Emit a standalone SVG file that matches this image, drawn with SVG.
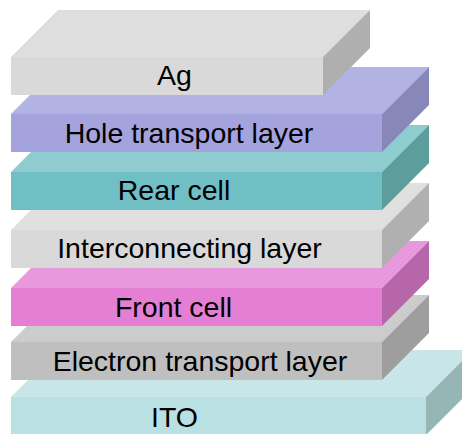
<svg xmlns="http://www.w3.org/2000/svg" width="462" height="434" viewBox="0 0 462 434">
<style>
text{font-family:"Liberation Sans",Arial,sans-serif;font-size:28.5px;fill:#000;text-anchor:middle}
</style>
<rect width="462" height="434" fill="#ffffff"/>
<g id="ito">
<polygon points="11,397 58,350 473,350 426,397" fill="#c8e6e8"/>
<polygon points="426,397 473,350 473,388 426,435" fill="#96b5b5"/>
<rect x="11" y="397" width="415" height="38" fill="#b9e0e3"/>
<text x="174.5" y="427">ITO</text>
</g>
<g id="etl">
<polygon points="11,342 58,295 429,295 382,342" fill="#cccccc"/>
<polygon points="382,342 429,295 429,333 382,380" fill="#9e9e9e"/>
<rect x="11" y="342" width="371" height="38" fill="#bfbfbf"/>
<text x="200" y="371">Electron transport layer</text>
</g>
<g id="front">
<polygon points="11,288 58,241 429,241 382,288" fill="#e898dc"/>
<polygon points="382,288 429,241 429,279 382,326" fill="#b666a9"/>
<rect x="11" y="288" width="371" height="38" fill="#e47fd4"/>
<text x="173.5" y="317">Front cell</text>
</g>
<g id="inter">
<polygon points="11,230 58,183 429,183 382,230" fill="#e0e0e0"/>
<polygon points="382,230 429,183 429,221 382,268" fill="#b0b0b0"/>
<rect x="11" y="230" width="371" height="38" fill="#d9d9d9"/>
<text x="189.5" y="258">Interconnecting layer</text>
</g>
<g id="rear">
<polygon points="11,172 58,125 429,125 382,172" fill="#8fcccf"/>
<polygon points="382,172 429,125 429,163 382,210" fill="#5b9e9c"/>
<rect x="11" y="172" width="371" height="38" fill="#70bfc5"/>
<text x="174" y="200">Rear cell</text>
</g>
<g id="htl">
<polygon points="11,114 58,67 429,67 382,114" fill="#b3b3e3"/>
<polygon points="382,114 429,67 429,105 382,152" fill="#8787b8"/>
<rect x="11" y="114" width="371" height="38" fill="#a5a3de"/>
<text x="189" y="143">Hole transport layer</text>
</g>
<g id="ag">
<polygon points="11,57 58,10 370,10 323,57" fill="#dedede"/>
<polygon points="323,57 370,10 370,48 323,95" fill="#afafaf"/>
<rect x="11" y="57" width="312" height="38" fill="#d9d9d9"/>
<text x="174.5" y="85">Ag</text>
</g>
<g id="connectors"/>
</svg>
